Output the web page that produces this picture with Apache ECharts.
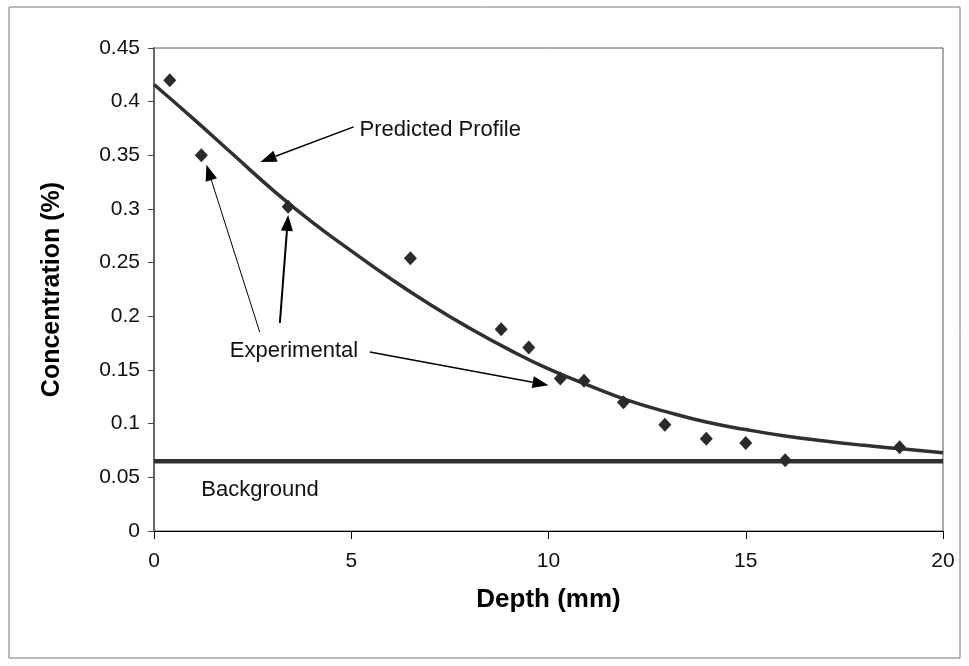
<!DOCTYPE html>
<html>
<head>
<meta charset="utf-8">
<script src="https://cdn.jsdelivr.net/npm/echarts@6/dist/echarts.min.js"></script>
<style>
  html, body { margin: 0; padding: 0; background: #fff; }
  #chart { width: 969px; height: 666px; }
</style>
</head>
<body>
<div id="chart"></div>
<script>
// Measured concentration at each depth (experimental points)
const expDepth = [0.4, 1.2, 3.4, 6.5, 8.8, 9.5, 10.3, 10.9, 11.9, 12.95, 14, 15, 16, 18.9];
const expConc  = [0.42, 0.35, 0.302, 0.254, 0.188, 0.171, 0.142, 0.140, 0.120, 0.099, 0.086, 0.082, 0.066, 0.078];

// Predicted diffusion profile, sampled every millimetre
const profileDepth = [0, 1, 2, 3, 4, 5, 6, 7, 8, 9, 10, 11, 12, 13, 14, 15, 16, 17, 18, 19, 20];
const profileConc  = [0.416, 0.384, 0.351, 0.318, 0.288, 0.261, 0.235, 0.211, 0.189, 0.169, 0.151,
                      0.136, 0.122, 0.111, 0.1015, 0.0945, 0.0885, 0.0838, 0.0798, 0.0763, 0.073];

// Background concentration level
const backgroundDepth = [0, 20];
const backgroundConc  = [0.065, 0.065];

// Axis ticks
const xTicks = [0, 5, 10, 15, 20];
const yTicks = [0, 0.05, 0.1, 0.15, 0.2, 0.25, 0.3, 0.35, 0.4, 0.45];

// Callout texts and arrows, anchored in data units [depth, concentration]
const labelTexts = ['Predicted Profile', 'Experimental', 'Background'];
const labelAnchors = [[5.21, 0.3737], [1.92, 0.1676], [1.20, 0.038]];
const arrowFrom = [[5.06, 0.3765], [2.68, 0.1854], [3.19, 0.1938], [5.47, 0.1667]];
const arrowTo   = [[2.70, 0.3439], [1.33, 0.3412], [3.40, 0.2945], [10.0, 0.1359]];
const arrowWidth = [1.5, 1, 2, 1.5];

const FONT = '"Liberation Sans", Arial, sans-serif';
const INK = '#303030';

const chart = echarts.init(document.getElementById('chart'), null, { renderer: 'canvas' });

const option = {
  backgroundColor: '#ffffff',
  animation: false,
  grid: {
    left: 154, top: 48, width: 789, height: 483,
    show: true, borderColor: '#555', borderWidth: 1, backgroundColor: 'transparent'
  },
  xAxis: {
    type: 'value', min: xTicks[0], max: xTicks[xTicks.length - 1], interval: 5,
    name: 'Depth (mm)', nameLocation: 'middle', nameGap: 56,
    nameTextStyle: { fontFamily: FONT, fontSize: 26, fontWeight: 'bold', color: '#000' },
    axisLine: { show: true, lineStyle: { color: '#000', width: 1.2 } },
    axisTick: { show: true, inside: false, length: 8, lineStyle: { color: '#000', width: 1 } },
    axisLabel: { margin: 20, fontFamily: FONT, fontSize: 21, color: '#111' },
    splitLine: { show: false }
  },
  yAxis: {
    type: 'value', min: yTicks[0], max: yTicks[yTicks.length - 1], interval: 0.05,
    name: 'Concentration (%)', nameLocation: 'middle', nameGap: 89, nameRotate: 90,
    nameTextStyle: { fontFamily: FONT, fontSize: 25, fontWeight: 'bold', color: '#000' },
    axisLine: { show: true, lineStyle: { color: '#666', width: 2 } },
    axisTick: { show: true, inside: false, length: 6, lineStyle: { color: '#444', width: 1 } },
    axisLabel: {
      margin: 14, fontFamily: FONT, fontSize: 21, color: '#111',
      formatter: v => String(parseFloat(v.toFixed(2)))
    },
    splitLine: { show: false }
  },
  series: [
    {
      name: 'Background', type: 'line',
      data: backgroundDepth.map((d, i) => [d, backgroundConc[i]]),
      showSymbol: false, symbol: 'none',
      lineStyle: { color: INK, width: 4.5 }, z: 2
    },
    {
      name: 'Predicted Profile', type: 'line',
      data: profileDepth.map((d, i) => [d, profileConc[i]]),
      smooth: 0.5, showSymbol: false, symbol: 'none',
      lineStyle: { color: INK, width: 3.5 }, z: 3
    },
    {
      name: 'Experimental', type: 'scatter',
      data: expDepth.map((d, i) => [d, expConc[i]]),
      symbol: 'diamond', symbolSize: [13, 14],
      itemStyle: { color: '#2a2a2a', opacity: 1 }, z: 4
    }
  ]
};

chart.setOption(option);

// Callouts are placed through the chart's own coordinate conversion
function toPx(p) { return chart.convertToPixel({ gridIndex: 0 }, p); }

function arrowGraphic(from, to, width) {
  const a = toPx(from), b = toPx(to);
  const dx = b[0] - a[0], dy = b[1] - a[1];
  const len = Math.sqrt(dx * dx + dy * dy);
  const ux = dx / len, uy = dy / len;
  const headLen = 16, headHalf = 6;
  const base = [b[0] - ux * headLen, b[1] - uy * headLen];
  const nx = -uy, ny = ux;
  return [
    {
      type: 'line', silent: true, z: 10,
      shape: { x1: a[0], y1: a[1], x2: base[0], y2: base[1] },
      style: { stroke: '#000', lineWidth: width }
    },
    {
      type: 'polygon', silent: true, z: 10,
      shape: { points: [b, [base[0] + nx * headHalf, base[1] + ny * headHalf], [base[0] - nx * headHalf, base[1] - ny * headHalf]] },
      style: { fill: '#000' }
    }
  ];
}

const graphics = [
  {
    type: 'rect', silent: true, z: -1,
    shape: { x: 9, y: 7, width: 951, height: 651 },
    style: { fill: 'none', stroke: '#777', lineWidth: 1 }
  }
];
labelTexts.forEach((t, i) => {
  const p = toPx(labelAnchors[i]);
  graphics.push({
    type: 'text', silent: true, z: 10, x: p[0], y: p[1],
    style: { text: t, font: '22px ' + FONT, fill: '#111', textVerticalAlign: 'middle', textAlign: 'left' }
  });
});
arrowFrom.forEach((f, i) => { graphics.push(...arrowGraphic(f, arrowTo[i], arrowWidth[i])); });

chart.setOption({ graphic: graphics });
</script>
</body>
</html>
